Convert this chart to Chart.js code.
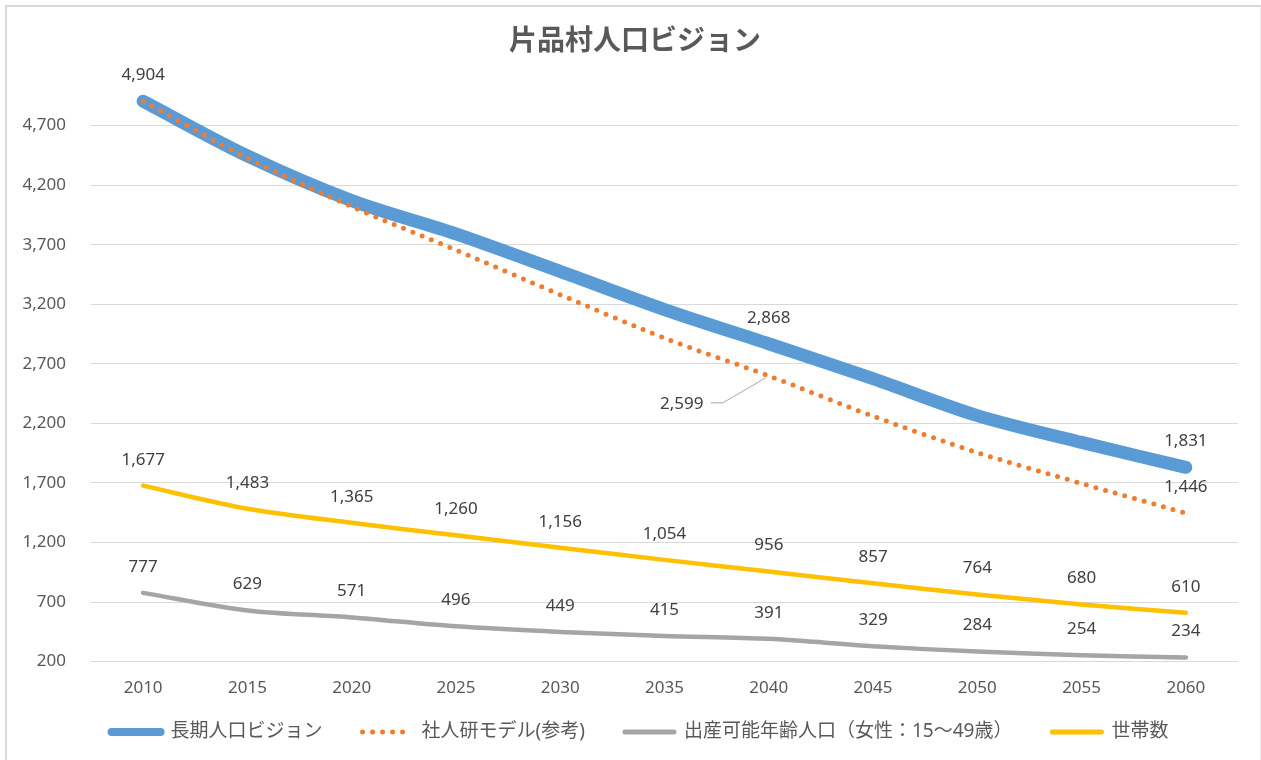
<!DOCTYPE html>
<html>
<head>
<meta charset="utf-8">
<script src="https://cdn.jsdelivr.net/npm/chart.js@4"></script>
<style>
    html, body { margin: 0; padding: 0; background: #fff; }
    #wrap { position: relative; width: 1261px; height: 760px; }
    #frame {
        position: absolute; left: 5px; top: 5px; width: 1253px; height: 760px;
        border-top: 2px solid #d9d9d9; border-left: 2px solid #d9d9d9; border-right: 1px solid #ececec;
        pointer-events: none;
    }
</style>
</head>
<body>
<div id="wrap">
    <canvas id="visionChart"></canvas>
    <div id="frame"></div>
</div>
<script>
const chartTitle = "片品村人口ビジョン";
const years = ["2010", "2015", "2020", "2025", "2030", "2035", "2040", "2045", "2050", "2055", "2060"];
// 長期人口ビジョン
const longTermVision = [4904, 4445, 4070, 3790, 3475, 3155, 2868, 2575, 2265, 2040, 1831];
// 社人研モデル(参考)
const ipssModel = [4904, 4425, 4020, 3655, 3280, 2915, 2599, 2260, 1955, 1695, 1446];
// 出産可能年齢人口(女性:15〜49歳)
const fertileWomen = [777, 629, 571, 496, 449, 415, 391, 329, 284, 254, 234];
// 世帯数
const households = [1677, 1483, 1365, 1260, 1156, 1054, 956, 857, 764, 680, 610];

const yTicks = [200, 700, 1200, 1700, 2200, 2700, 3200, 3700, 4200, 4700];

const FONT = '"Noto Sans", "Noto Sans CJK JP", sans-serif';

// which points get a value label
const labelIdx = {
    longTerm: [0, 6, 10],
    ipss: [6, 10],
    fertile: years.map((y, i) => i),
    households: years.map((y, i) => i)
};

const fmt = v => v.toLocaleString("en-US");

// simple data label plugin (no datalabels plugin available)
const valueLabels = {
    id: "valueLabels",
    afterDatasetsDraw(chart) {
        const ctx = chart.ctx;
        ctx.save();
        ctx.font = "17px " + FONT;
        ctx.fillStyle = "#404040";
        ctx.textAlign = "center";
        ctx.textBaseline = "middle";
        chart.data.datasets.forEach((ds, di) => {
            const meta = chart.getDatasetMeta(di);
            ds.labelAt.forEach(i => {
                const pt = meta.data[i];
                const text = fmt(ds.data[i]);
                if (ds.callout === i) {
                    // label pulled off to the lower left with a leader line
                    ctx.fillText(text, pt.x - 87, pt.y + 28);
                    ctx.strokeStyle = "#a6a6a6";
                    ctx.lineWidth = 1;
                    ctx.beginPath();
                    ctx.moveTo(pt.x - 58, pt.y + 27);
                    ctx.lineTo(pt.x - 46, pt.y + 27);
                    ctx.lineTo(pt.x - 3, pt.y + 2);
                    ctx.stroke();
                } else {
                    ctx.fillText(text, pt.x, pt.y - 26);
                }
            });
        });
        ctx.restore();
    }
};

// title + line-sample legend drawn by hand (built-in legend drops the dotted style)
const titleAndLegend = {
    id: "titleAndLegend",
    afterDraw(chart) {
        const ctx = chart.ctx;
        ctx.save();
        ctx.fillStyle = "#595959";
        ctx.textBaseline = "middle";
        ctx.textAlign = "center";
        ctx.font = "bold 28px " + FONT;
        ctx.fillText(chartTitle, 635, 42);

        ctx.font = "19px " + FONT;
        ctx.textAlign = "left";
        const sample = 57, gapText = 6, gapItem = 36;
        const items = chart.data.datasets.map(ds => ({ ds: ds, w: ctx.measureText(ds.label).width }));
        const total = items.reduce((s, it) => s + sample + gapText + it.w, 0) + gapItem * (items.length - 1);
        let x = 638 - total / 2;
        const y = 732;
        items.forEach(({ ds, w }) => {
            ctx.strokeStyle = ds.borderColor;
            ctx.lineWidth = ds.legendWidth;
            ctx.lineCap = "round";
            ctx.setLineDash(ds.borderDash || []);
            ctx.beginPath();
            ctx.moveTo(x + 4, y);
            ctx.lineTo(x + sample - 4, y);
            ctx.stroke();
            ctx.setLineDash([]);
            ctx.fillText(ds.label, x + sample + gapText, y);
            x += sample + gapText + w + gapItem;
        });
        ctx.restore();
    }
};

new Chart(document.getElementById("visionChart"), {
    type: "line",
    data: {
        labels: years,
        datasets: [{
            label: "長期人口ビジョン",
            data: longTermVision,
            borderColor: "#5b9bd5",
            backgroundColor: "#5b9bd5",
            borderWidth: 13,
            borderCapStyle: "round",
            borderJoinStyle: "round",
            legendWidth: 8,
            order: 1,
            labelAt: labelIdx.longTerm
        }, {
            label: "社人研モデル(参考)",
            data: ipssModel,
            borderColor: "#ed7d31",
            backgroundColor: "#ed7d31",
            borderWidth: 5,
            borderDash: [0, 10],
            borderCapStyle: "round",
            legendWidth: 5,
            order: 0,
            labelAt: labelIdx.ipss,
            callout: 6
        }, {
            label: "出産可能年齢人口（女性：15〜49歳）",
            data: fertileWomen,
            borderColor: "#a5a5a5",
            backgroundColor: "#a5a5a5",
            borderWidth: 4.5,
            borderCapStyle: "round",
            legendWidth: 5,
            order: 0,
            labelAt: labelIdx.fertile
        }, {
            label: "世帯数",
            data: households,
            borderColor: "#ffc000",
            backgroundColor: "#ffc000",
            borderWidth: 4.5,
            borderCapStyle: "round",
            legendWidth: 5,
            order: 0,
            labelAt: labelIdx.households
        }]
    },
    options: {
        responsive: true,
        maintainAspectRatio: false,
        animation: false,
        layout: { padding: { left: 20, right: 23, top: 66, bottom: 46 } },
        elements: {
            point: { radius: 0, hoverRadius: 0 },
            line: { tension: 0.3, fill: false }
        },
        scales: {
            x: {
                offset: true,
                grid: { display: false, drawTicks: false },
                border: { display: false },
                ticks: { color: "#595959", font: { family: FONT, size: 17 }, padding: 16 }
            },
            y: {
                min: 200,
                max: 5200,
                grid: { color: "#d9d9d9", drawTicks: false },
                border: { display: false },
                ticks: {
                    color: "#595959",
                    font: { family: FONT, size: 17 },
                    padding: 25,
                    callback: v => fmt(v)
                },
                afterBuildTicks: s => { s.ticks = yTicks.map(v => ({ value: v })); },
                afterFit: s => { s.width = 71; }
            }
        },
        plugins: {
            title: { display: false },
            legend: { display: false },
            tooltip: { enabled: false }
        }
    },
    plugins: [valueLabels, titleAndLegend]
});
</script>
</body>
</html>
